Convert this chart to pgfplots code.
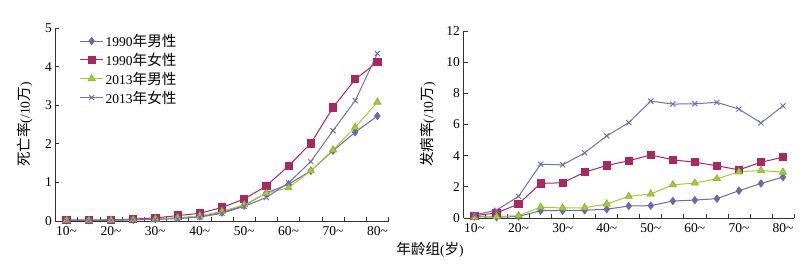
\documentclass[border=0pt]{standalone}
\usepackage{fontspec}
\setmainfont{Liberation Serif}
\newfontfamily\cjk[Scale=1.08]{Noto Sans CJK SC}
\usepackage{pgfplots}
\usepackage{pgfplotstable}
\pgfplotsset{compat=1.18}
\definecolor{cA}{RGB}{105,105,175}
\definecolor{cB}{RGB}{172,38,98}
\definecolor{cC}{RGB}{160,205,55}
\definecolor{cCe}{RGB}{130,180,40}
\definecolor{cD}{RGB}{112,112,182}
\definecolor{axc}{RGB}{50,50,50}

\pgfplotstableread{
idx m90 f90 m13 f13
0 0.02 0.02 0.01 0.01
1 0.02 0.02 0.01 0.01
2 0.02 0.03 0.02 0.02
3 0.03 0.05 0.03 0.03
4 0.05 0.08 0.05 0.04
5 0.08 0.14 0.08 0.06
6 0.12 0.20 0.13 0.10
7 0.22 0.35 0.25 0.20
8 0.40 0.57 0.42 0.38
9 0.73 0.91 0.72 0.61
10 0.95 1.43 0.86 0.99
11 1.30 2.01 1.30 1.54
12 1.82 2.94 1.84 2.34
13 2.30 3.67 2.43 3.12
14 2.72 4.12 3.08 4.34
}\mort

\pgfplotstableread{
idx m90 f90 m13 f13
0 0.10 0.15 0.05 0.20
1 0.05 0.32 0.10 0.50
2 0.10 0.90 0.15 1.39
3 0.47 2.22 0.70 3.45
4 0.47 2.26 0.64 3.41
5 0.50 2.94 0.66 4.18
6 0.56 3.37 0.90 5.27
7 0.77 3.67 1.39 6.12
8 0.79 4.05 1.54 7.50
9 1.09 3.73 2.13 7.31
10 1.15 3.58 2.24 7.33
11 1.24 3.35 2.52 7.42
12 1.75 3.09 2.96 6.99
13 2.22 3.58 3.05 6.10
14 2.62 3.90 2.94 7.19
}\inc

\pgfplotsset{
  myaxis/.style={
    scale only axis,
    axis lines*=left,
    axis line style={axc, line width=0.7pt},
    xmin=-0.5, xmax=14.5,
    xtick={-0.5,0.5,...,14.5},
    xticklabels={},
    extra x ticks={0,2,...,14},
    extra x tick labels={10\textasciitilde,20\textasciitilde,30\textasciitilde,40\textasciitilde,50\textasciitilde,60\textasciitilde,70\textasciitilde,80\textasciitilde},
    extra x tick style={major tick length=0pt},
    tick align=inside,
    major tick length=4pt,
    tick style={axc, line width=0.7pt},
    ymin=0,
    /pgf/number format/assume math mode=true,
    tick label style={font=\fontsize{13.5}{14}\selectfont},
    xticklabel style={yshift=-1.5pt},
    label style={font=\fontsize{13.5}{14}\selectfont},
    m90/.style={cA, line width=1pt, mark=diamond*, mark size=3.5pt, mark options={fill=cA, draw=cA}},
    f90/.style={cB, line width=1pt, mark=square*, mark size=3.6pt, mark options={fill=cB, draw=cB}},
    m13/.style={cC, line width=1pt, mark=triangle*, mark size=4.2pt, mark options={fill=cC, draw=cCe, line width=0.6pt}},
    f13/.style={cD, line width=1pt, mark=x, mark size=3.6pt, mark options={draw=cD, line width=1pt}},
  }
}

\begin{document}
\begin{tikzpicture}
\useasboundingbox (0,0) rectangle (805pt,267pt);
\begin{axis}[myaxis,
  at={(55.5pt,46pt)}, anchor=south west,
  width=333pt, height=193pt,
  ymax=5, ytick={0,1,...,5},
  ylabel={{\cjk 死亡率}(/10{\cjk 万})},
  ylabel style={at={(axis description cs:-0.092,0.5)}, anchor=center},
  legend style={draw=none, fill=none, at={(axis description cs:0.063,0.99)}, anchor=north west,
    font=\fontsize{13.5}{14}\selectfont, row sep=1pt},
  legend cell align=left,
  legend image code/.code={\draw[mark repeat=2,mark phase=2] plot coordinates {(0pt,0pt) (11.5pt,0pt) (23pt,0pt)};},
]
\addplot[m90] table[x=idx,y=m90]{\mort};
\addlegendentry{1990{\cjk 年男性}}
\addplot[f90] table[x=idx,y=f90]{\mort};
\addlegendentry{1990{\cjk 年女性}}
\addplot[m13] table[x=idx,y=m13]{\mort};
\addlegendentry{2013{\cjk 年男性}}
\addplot[f13] table[x=idx,y=f13]{\mort};
\addlegendentry{2013{\cjk 年女性}}
\end{axis}
\begin{axis}[myaxis,
  at={(463.5pt,49pt)}, anchor=south west,
  width=330.5pt, height=187pt,
  ymax=12, ytick={0,2,...,12},
  ylabel={{\cjk 发病率}(/10{\cjk 万})},
  ylabel style={at={(axis description cs:-0.107,0.5)}, anchor=center},
]
\addplot[m90] table[x=idx,y=m90]{\inc};
\addplot[f90] table[x=idx,y=f90]{\inc};
\addplot[m13] table[x=idx,y=m13]{\inc};
\addplot[f13] table[x=idx,y=f13]{\inc};
\end{axis}
\node[font=\fontsize{13.5}{14}\selectfont] at (430pt,17pt) {{\cjk 年龄组}({\cjk 岁})};
\end{tikzpicture}
\end{document}
